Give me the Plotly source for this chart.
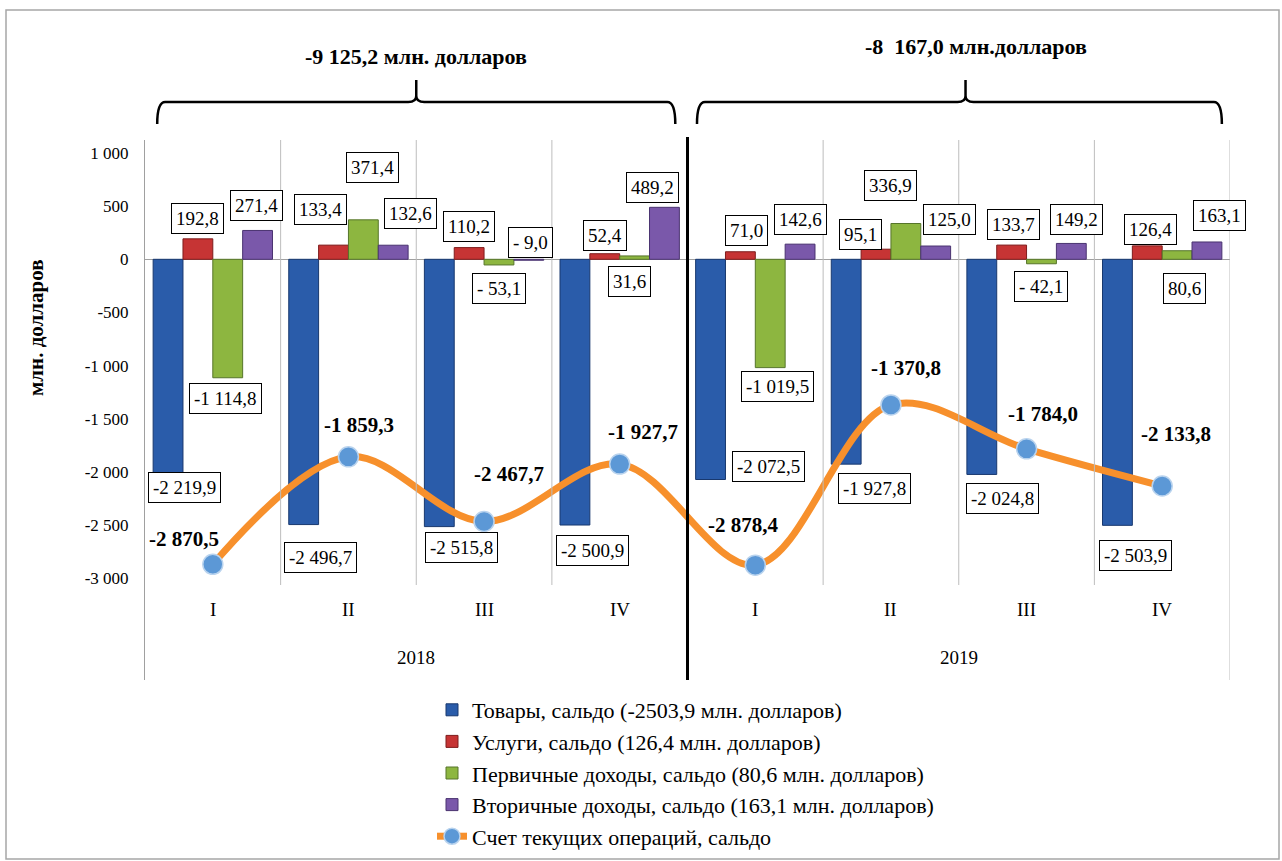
import plotly.graph_objects as go

# ---------------- data ----------------
quarters = ["I", "II", "III", "IV", "I", "II", "III", "IV"]
years = ["2018", "2019"]
goods = [-2219.9, -2496.7, -2515.8, -2500.9, -2072.5, -1927.8, -2024.8, -2503.9]
services = [192.8, 133.4, 110.2, 52.4, 71.0, 95.1, 133.7, 126.4]
primary = [-1114.8, 371.4, -53.1, 31.6, -1019.5, 336.9, -42.1, 80.6]
secondary = [271.4, 132.6, -9.0, 489.2, 142.6, 125.0, 149.2, 163.1]
current = [-2870.5, -1859.3, -2467.7, -1927.7, -2878.4, -1370.8, -1784.0, -2133.8]
y_ticks = [1000, 500, 0, -500, -1000, -1500, -2000, -2500, -3000]
year_totals = ["-9 125,2 млн. долларов", "-8  167,0 млн.долларов"]
series_names = [
    "Товары, сальдо (-2503,9 млн. долларов)",
    "Услуги, сальдо (126,4 млн. долларов)",
    "Первичные доходы, сальдо (80,6 млн. долларов)",
    "Вторичные доходы, сальдо (163,1 млн. долларов)",
    "Счет текущих операций, сальдо",
]
y_title = "млн. долларов"

# ---------------- styling ----------------
FONT = "Liberation Serif"
colors = ["#2A5CAA", "#C63434", "#8DB640", "#7A58AA"]
edges = ["#18386E", "#7E1C1C", "#56752A", "#4A3370"]
bar_off = [-0.33, -0.11, 0.11, 0.33]
# label pixel shifts (dx, dy) per series
shifts = [
    ([16, 17, 22, 18, 58, 28, 21, 18], [8, -33, -21, -25, 13, -24, -24, -30]),
    ([0, -13, 0, 0, 6, -16, 2, 3], [20, 36, 21, 18, 21, 15, 21, 16]),
    ([-2, 9, 0, -5, 7, -15, 0, 7], [-21, 52, -24, -26, -19, 38, -23, -38]),
    ([-1, 17, 2, -12, 0, 14, 5, 13], [25, 32, 18, 20, 25, 27, 24, 26]),
]
line_shift = ([-29, 11, 25, 23, -12, 15, 16, 14], [25, 32, 47, 32, 40, 37, 35, 52])

W, H = 1282, 861
L, R, T, B = 145, 52, 140, 181
PH = H - T - B
PW = W - L - R
ZERO_PX = 259.3
PX_PER = 0.10625
ymax = (ZERO_PX - T) / PX_PER
ymin = -(H - B - ZERO_PX) / PX_PER


def py(px):  # pixel row -> paper y
    return (H - B - px) / PH


def fmt(v):
    s = f"{abs(v):,.1f}".replace(",", " ").replace(".", ",")
    if v < 0:
        return ("- " if abs(v) < 1000 else "-") + s
    return s


def fmt_tick(v):
    s = f"{abs(v):,}".replace(",", " ")
    return ("-" if v < 0 else "") + s


x = list(range(len(quarters)))
fig = go.Figure()
for k, (vals, name) in enumerate(zip([goods, services, primary, secondary], series_names)):
    fig.add_trace(go.Bar(
        x=x, y=vals, name=name, legendgroup=f"g{k}",
        marker=dict(color=colors[k], line=dict(color=edges[k], width=1)),
    ))
fig.add_trace(go.Scatter(
    x=x, y=current, name=series_names[4], legendgroup="g4", mode="lines+markers",
    line=dict(color="#F7902C", width=7, shape="spline", smoothing=1.0),
    marker=dict(size=20, color="#5C98D6", line=dict(color="#B9D3EE", width=1.5)),
))

ann = []
for k, vals in enumerate([goods, services, primary, secondary]):
    dxs, dys = shifts[k]
    for i, v in enumerate(vals):
        ann.append(dict(
            x=i + bar_off[k], y=v, xref="x", yref="y", text=fmt(v), showarrow=False,
            xshift=dxs[i], yshift=dys[i], xanchor="center", yanchor="middle",
            font=dict(family=FONT, size=19, color="black"),
            bgcolor="white", bordercolor="black", borderwidth=1, borderpad=4,
        ))
for i, v in enumerate(current):
    ann.append(dict(
        x=i, y=v, xref="x", yref="y", text=f"<b>{fmt(v)}</b>", showarrow=False,
        xshift=line_shift[0][i], yshift=line_shift[1][i], xanchor="center", yanchor="middle",
        font=dict(family=FONT, size=21, color="black"),
    ))
for i, q in enumerate(quarters):
    ann.append(dict(x=i, y=py(609), xref="x", yref="paper", text=q, showarrow=False,
                    xanchor="center", yanchor="middle",
                    font=dict(family=FONT, size=19, color="black")))
for j, yr in enumerate(years):
    ann.append(dict(x=1.5 + 4 * j, y=py(657), xref="x", yref="paper", text=yr, showarrow=False,
                    xanchor="center", yanchor="middle",
                    font=dict(family=FONT, size=19, color="black")))
# totals above brackets
ann.append(dict(x=1.5, y=py(56), xref="x", yref="paper", text=f"<b>{year_totals[0]}</b>",
                showarrow=False, xanchor="center", yanchor="middle",
                font=dict(family=FONT, size=22, color="black")))
ann.append(dict(x=5.63, y=py(46), xref="x", yref="paper", text=f"<b>{year_totals[1]}</b>",
                showarrow=False, xanchor="center", yanchor="middle",
                font=dict(family=FONT, size=22, color="black")))
ann.append(dict(x=(36 - L) / PW, y=py(328), xref="paper", yref="paper",
                text=f"<b>{y_title}</b>", textangle=-90, showarrow=False,
                xanchor="center", yanchor="middle",
                font=dict(family=FONT, size=21, color="black")))

shapes = []
# category separators
for b in [0.5, 1.5, 2.5, 4.5, 5.5, 6.5]:
    shapes.append(dict(type="line", xref="x", yref="paper", x0=b, x1=b, y0=py(585), y1=1,
                       line=dict(color="#BDBDBD", width=1)))
shapes.append(dict(type="line", xref="x", yref="paper", x0=7.5, x1=7.5, y0=0, y1=1,
                   line=dict(color="#BDBDBD", width=1)))
shapes.append(dict(type="line", xref="x", yref="paper", x0=3.5, x1=3.5, y0=0, y1=py(137),
                   line=dict(color="black", width=3)))


def brace(x0, xm, x1):
    rx = 8 / 135.6
    yl, ye, yt, ry = py(102), py(124), py(80), 6 / PH
    return (f"M {x0},{ye} Q {x0},{yl} {x0 + rx},{yl} L {xm - rx},{yl} "
            f"Q {xm},{yl} {xm},{yl + ry} L {xm},{yt} M {xm},{yl + ry} "
            f"Q {xm},{yl} {xm + rx},{yl} L {x1 - rx},{yl} Q {x1},{yl} {x1},{ye}")


shapes.append(dict(type="path", xref="x", yref="paper", path=brace(-0.41, 1.5, 3.41),
                   line=dict(color="black", width=2.5)))
shapes.append(dict(type="path", xref="x", yref="paper", path=brace(3.57, 5.55, 7.44),
                   line=dict(color="black", width=2.5)))
# outer frame
shapes.append(dict(type="rect", xref="paper", yref="paper",
                   x0=(6 - L) / PW, x1=(1279 - L) / PW,
                   y0=py(859), y1=py(10), line=dict(color="#A6A6A6", width=1.5)))

fig.update_layout(
    width=W, height=H, margin=dict(l=L, r=R, t=T, b=B, autoexpand=False),
    paper_bgcolor="white", plot_bgcolor="white",
    barmode="group", bargap=0.12, bargroupgap=0,
    font=dict(family=FONT, size=17, color="black"),
    xaxis=dict(range=[-0.5, 7.5], showticklabels=False, showgrid=False, zeroline=False,
               showline=False, ticks=""),
    yaxis=dict(range=[ymin, ymax], tickvals=y_ticks, ticktext=[fmt_tick(v) for v in y_ticks],
               showgrid=False, zeroline=True, zerolinecolor="#A0A0A0", zerolinewidth=1,
               showline=True, linecolor="#A0A0A0", linewidth=1, ticks="",
               ticklabelstandoff=12, tickfont=dict(family=FONT, size=17, color="black")),
    legend=dict(x=(432 - L) / PW, y=py(689), xanchor="left", yanchor="top",
                font=dict(family=FONT, size=22, color="black"), tracegroupgap=0,
                bgcolor="rgba(0,0,0,0)", itemwidth=30),
    annotations=ann, shapes=shapes,
)

fig.write_html("out.html", config={"displayModeBar": False},
               post_script=["document.body.style.margin='0';"])
